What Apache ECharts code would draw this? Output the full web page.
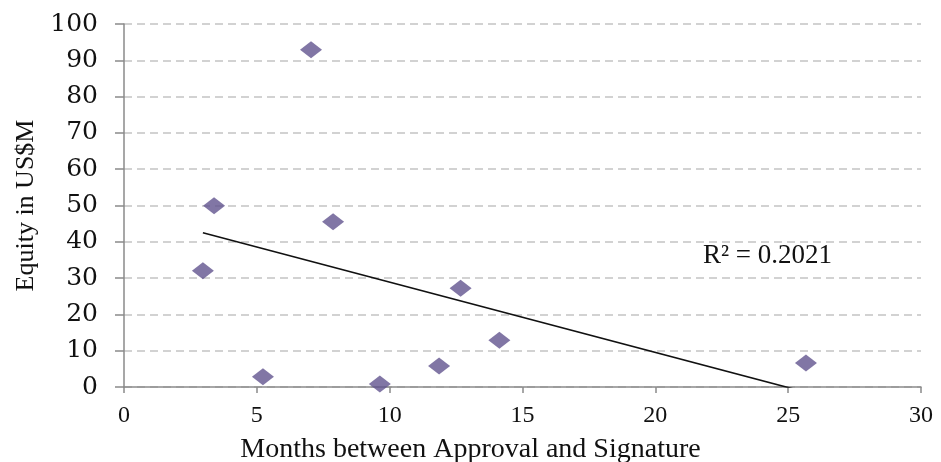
<!DOCTYPE html>
<html>
<head>
<meta charset="utf-8">
<script src="https://cdn.jsdelivr.net/npm/echarts@6/dist/echarts.min.js"></script>
<style>
  html, body { margin: 0; padding: 0; background: #fff; }
  #chart { width: 941px; height: 462px; }
</style>
</head>
<body>
<div id="chart"></div>
<script>
// Months between approval and signature vs. equity (US$M)
const months = [2.97, 3.39, 5.23, 7.04, 7.87, 9.63, 11.86, 12.67, 14.13, 25.67];
const equity = [32.0, 49.9, 2.8, 92.9, 45.5, 0.8, 5.8, 27.2, 12.9, 6.6];

// Linear trendline as reported with the chart
const trendSlope = -1.936;
const trendIntercept = 48.25;
const rSquaredText = 'R² = 0.2021';

const xTicks = { min: 0, max: 30, interval: 5 };
const yTicks = { min: 0, max: 100, interval: 10 };

const points = months.map((m, i) => [m, equity[i]]);
const xMinData = Math.min(...months);
const xMaxData = Math.max(...months);
const trendPoints = [
  [xMinData, trendIntercept + trendSlope * xMinData],
  [xMaxData, trendIntercept + trendSlope * xMaxData]
];

const serif = '"Liberation Serif", "Times New Roman", serif';
const chart = echarts.init(document.getElementById('chart'), null, { renderer: 'canvas' });

chart.setOption({
  animation: false,
  backgroundColor: '#ffffff',
  grid: { left: 124, right: 20, top: 24, bottom: 75, containLabel: false, outerBoundsMode: 'none' },
  xAxis: {
    type: 'value',
    min: xTicks.min, max: xTicks.max, interval: xTicks.interval,
    name: 'Months between Approval and Signature',
    nameLocation: 'middle',
    nameGap: 49,
    nameTextStyle: { fontFamily: serif, fontSize: 28, color: '#111', padding: [0, 104, 0, 0] },
    axisLine: { show: true, onZero: false, lineStyle: { color: '#8a8a8a', width: 1.5 } },
    axisTick: { show: true, length: 6, inside: false, lineStyle: { color: '#8a8a8a', width: 1.5 } },
    axisLabel: { margin: 17, fontFamily: serif, fontSize: 24, color: '#111' },
    splitLine: { show: false }
  },
  yAxis: {
    type: 'value',
    min: yTicks.min, max: yTicks.max, interval: yTicks.interval,
    name: 'Equity in US$M',
    nameLocation: 'middle',
    nameGap: 84,
    nameRotate: 90,
    nameTextStyle: { fontFamily: serif, fontSize: 26, color: '#111' },
    axisLine: { show: true, lineStyle: { color: '#8a8a8a', width: 1.5 } },
    axisTick: { show: true, length: 9, lineStyle: { color: '#8a8a8a', width: 1.5 } },
    axisLabel: { margin: 26, fontFamily: '"DejaVu Serif", serif', fontSize: 25, color: '#111' },
    splitLine: { show: true, lineStyle: { color: '#c3c3c3', width: 1.5, type: [8, 5] } }
  },
  series: [
    {
      type: 'scatter',
      data: points,
      symbol: 'diamond',
      symbolSize: [22, 17],
      itemStyle: { color: '#62548f' },
      z: 3
    },
    {
      type: 'line',
      data: trendPoints,
      symbol: 'none',
      clip: true,
      lineStyle: { color: '#111111', width: 1.6 },
      z: 2
    }
  ],
  graphic: [
    {
      type: 'text',
      left: 703,
      top: 242,
      style: { text: rSquaredText, font: '27px ' + serif, fill: '#111' }
    }
  ]
});
</script>
</body>
</html>
